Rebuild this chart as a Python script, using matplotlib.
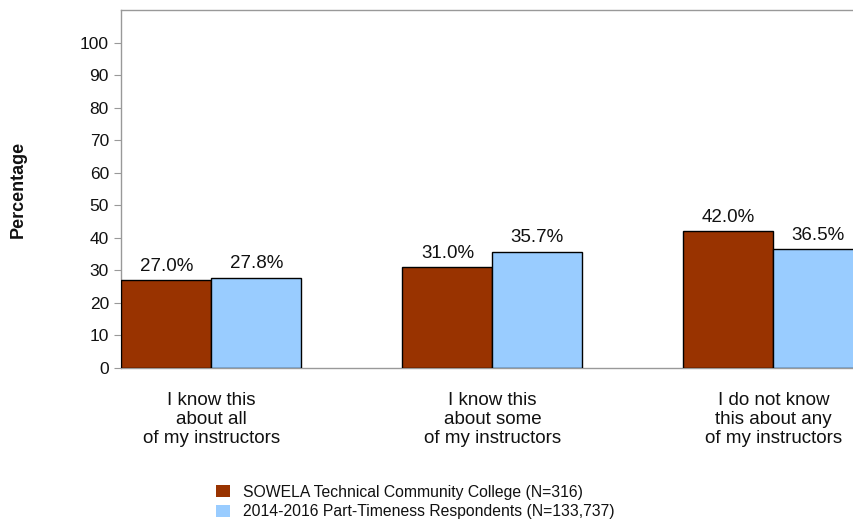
import matplotlib
matplotlib.use("Agg")
import matplotlib.pyplot as plt
import numpy as np

plt.rcParams['font.family'] = ['Liberation Sans', 'DejaVu Sans']

categories = ["I know this\nabout all\nof my instructors",
              "I know this\nabout some\nof my instructors",
              "I do not know\nthis about any\nof my instructors"]
college = [27.0, 31.0, 42.0]
national = [27.8, 35.7, 36.5]
series_names = ["SOWELA Technical Community College (N=316)",
                "2014-2016 Part-Timeness Respondents (N=133,737)"]
yticks = [0, 10, 20, 30, 40, 50, 60, 70, 80, 90, 100]

W, H = 854, 521
fig = plt.figure(figsize=(W / 100, H / 100), dpi=100)
left_px, right_px, top_px, bottom_px = 121.5, 964.5, 10, 368
ax = fig.add_axes([left_px / W, 1 - bottom_px / H, (right_px - left_px) / W, (bottom_px - top_px) / H])

x = np.arange(len(categories))
w = 0.32
b1 = ax.bar(x - w / 2, college, w, color="#993300", edgecolor="black", linewidth=1, label=series_names[0], zorder=3)
b2 = ax.bar(x + w / 2, national, w, color="#99CCFF", edgecolor="black", linewidth=1, label=series_names[1], zorder=3)

for bars, vals in ((b1, college), (b2, national)):
    for r, v in zip(bars, vals):
        ax.annotate(f"{v:.1f}%", (r.get_x() + r.get_width() / 2, v), xytext=(0, 4),
                    textcoords="offset points", ha="center", va="bottom", fontsize=13.5,
                    color="#111111")

ax.set_xlim(-w, 2.68)
ax.set_ylim(0, 110)
ax.set_yticks(yticks)
ax.set_xticks(x)
ax.set_xticklabels(categories, fontsize=13.5, linespacing=1.15, color="#111111")
ax.tick_params(axis='x', length=0, pad=17)
ax.tick_params(axis='y', length=5, color='#999999', labelsize=12.5, pad=4, labelcolor="#111111")
for s in ax.spines.values():
    s.set_color('#999999')
    s.set_linewidth(1)

fig.text(18 / W, 1 - 189 / H, "Percentage", rotation=90, ha="center", va="center",
         fontsize=13, fontweight="bold", color="#111111")

handles = [b1, b2]
leg = fig.legend(handles, series_names, loc="center", bbox_to_anchor=(415 / W, 1 - 502 / H),
                 frameon=False, fontsize=11.3, handlelength=0.89, handleheight=0.76,
                 handletextpad=0.83, labelspacing=0.3, borderpad=0)
for t in leg.get_texts():
    t.set_color("#111111")
for h in leg.legend_handles:
    h.set_edgecolor('none')

fig.savefig("out.png", dpi=100)
